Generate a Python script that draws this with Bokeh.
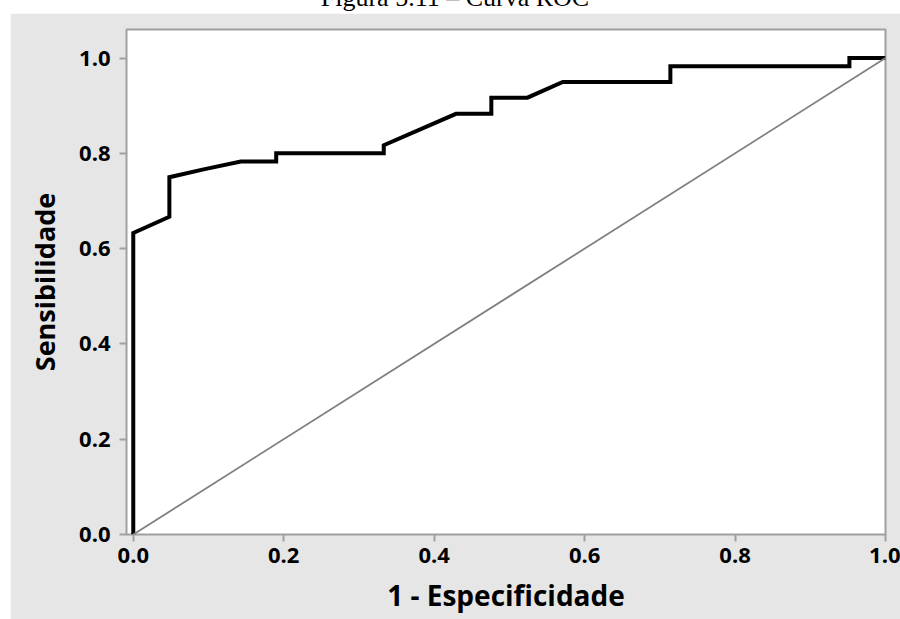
from bokeh.plotting import figure
from bokeh.models import Div, Range1d, FixedTicker, PrintfTickFormatter
from bokeh.layouts import column
from bokeh.embed import file_html
from bokeh.resources import INLINE

# ROC curve
fpr = [0.0, 0.0, 0.048, 0.048, 0.095, 0.143, 0.190, 0.190, 0.333, 0.333,
       0.429, 0.476, 0.476, 0.524, 0.571, 0.714, 0.714, 0.952, 0.952, 1.0]
tpr = [0.0, 0.633, 0.667, 0.750, 0.767, 0.783, 0.783, 0.800, 0.800, 0.817,
       0.883, 0.883, 0.917, 0.917, 0.950, 0.950, 0.983, 0.983, 1.0, 1.0]
ref_x = [0.0, 1.0]
ref_y = [0.0, 1.0]
ticks = [0.0, 0.2, 0.4, 0.6, 0.8, 1.0]

title_text = "Figura 5.11 – Curva ROC"
x_label = "1 - Especificidade"
y_label = "Sensibilidade"

GRAY_BG = "#e6e6e6"
FRAME = "#a0a0a0"
FONT = "Open Sans"

title = Div(
    text=('<div style="width:890px;font-family:\'Liberation Serif\',serif;font-size:26px;'
          'line-height:22px;text-align:center;white-space:nowrap;color:#000;">'
          + title_text + '</div>'),
    width=890, height=26, margin=(-13, 0, 0, 10),
)

p = figure(width=890, height=606, output_backend="svg", toolbar_location=None,
           x_range=Range1d(-0.009, 1.0), y_range=Range1d(0.0, 1.06),
           min_border_left=116, min_border_right=15, min_border_top=16,
           min_border_bottom=85, margin=(0, 0, 0, 10))
p.border_fill_color = GRAY_BG
p.background_fill_color = "white"
p.outline_line_color = FRAME
p.outline_line_width = 2
p.grid.visible = False

for ax in (p.xaxis[0], p.yaxis[0]):
    ax.ticker = FixedTicker(ticks=ticks)
    ax.formatter = PrintfTickFormatter(format="%.1f")
    ax.axis_line_color = None
    ax.major_tick_line_color = FRAME
    ax.major_tick_line_width = 2
    ax.major_tick_out = 7
    ax.major_tick_in = 0
    ax.minor_tick_line_color = None
    ax.major_label_text_font = FONT
    ax.major_label_text_font_style = "bold"
    ax.major_label_text_font_size = "22px"
    ax.major_label_text_color = "black"
    ax.axis_label_text_font = FONT
    ax.axis_label_text_font_style = "bold"
    ax.axis_label_text_color = "black"

p.xaxis.axis_label = x_label
p.yaxis.axis_label = y_label
p.xaxis.axis_label_text_font_size = "28px"
p.yaxis.axis_label_text_font_size = "27px"
p.xaxis.major_label_standoff = 6
p.yaxis.major_label_standoff = 9
p.xaxis.axis_label_standoff = 10
p.yaxis.axis_label_standoff = 13

p.line(fpr, tpr, line_color="black", line_width=4, line_join="miter")
p.line(ref_x, ref_y, line_color="#808080", line_width=1.8)

layout = column(title, p, spacing=0)
open("out.html", "w").write(file_html(layout, INLINE))
